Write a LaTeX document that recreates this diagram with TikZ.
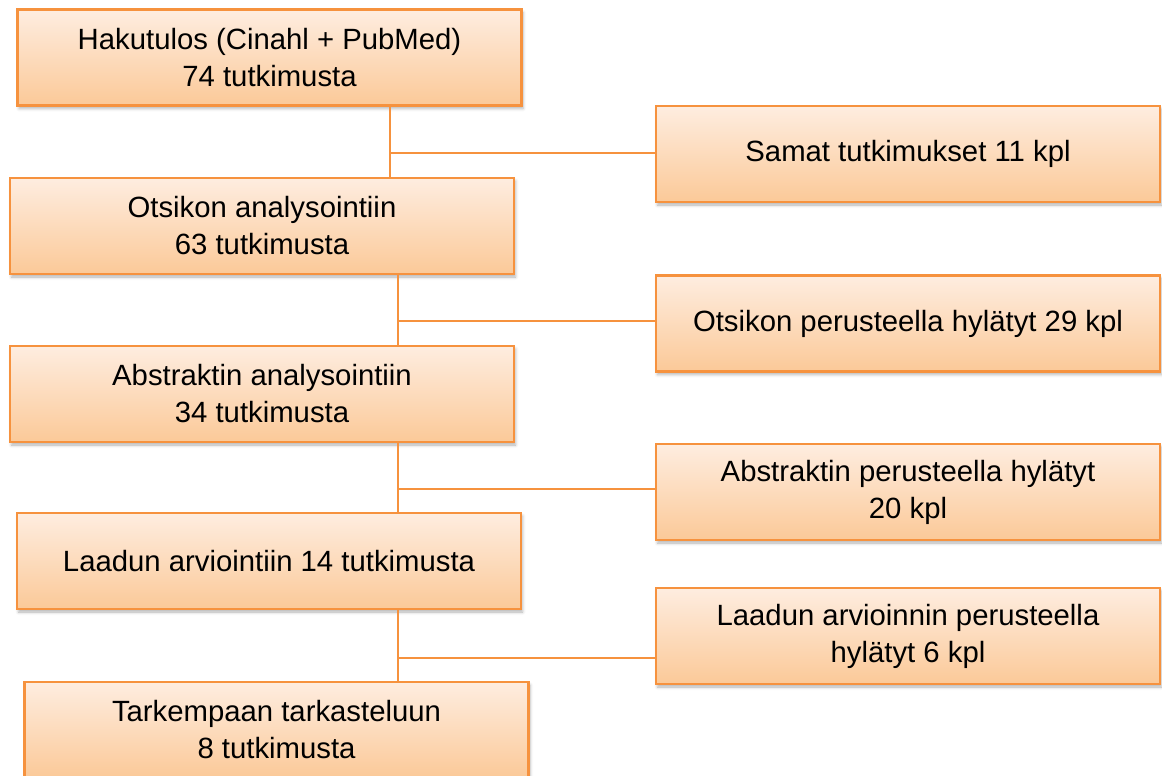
\documentclass[tikz,border=0pt]{standalone}
\usepackage{fontspec}
\setmainfont{Liberation Sans}
\usetikzlibrary{shadows.blur}
\definecolor{boxline}{RGB}{246,146,62}
\definecolor{boxtop}{RGB}{254,237,224}
\definecolor{boxbottom}{RGB}{251,201,152}

\begin{document}
\begin{tikzpicture}[x=1pt,y=1pt,
  stage/.style={draw=boxline, line width=2.2pt, top color=boxtop, bottom color=boxbottom,
    minimum width=504pt, minimum height=96pt, inner sep=0pt, align=center,
    font=\fontsize{29.3}{37}\selectfont,
    blur shadow={shadow xshift=1.5pt, shadow yshift=-3pt, shadow blur radius=3pt, shadow opacity=30}},
  link/.style={draw=boxline, line width=1.6pt}]
\useasboundingbox (0,0) rectangle (1162,-776);
\node[stage] (hakutulos) at (269.5,-57.5) {Hakutulos (Cinahl + PubMed)\\74 tutkimusta};
\node[stage] (otsikko) at (262,-226) {Otsikon analysointiin\\63 tutkimusta};
\node[stage] (abstrakti) at (262,-394) {Abstraktin analysointiin\\34 tutkimusta};
\node[stage] (laatu) at (269,-561) {Laadun arviointiin 14 tutkimusta};
\node[stage] (tarkempi) at (276.5,-730) {Tarkempaan tarkasteluun\\8 tutkimusta};
\node[stage] (samat) at (908,-154) {Samat tutkimukset 11 kpl};
\node[stage] (hylotsikko) at (908,-323.5) {Otsikon perusteella hylätyt 29 kpl};
\node[stage] (hylabstrakti) at (908,-492) {Abstraktin perusteella hylätyt\\20 kpl};
\node[stage] (hyllaatu) at (908,-636) {Laadun arvioinnin perusteella\\hylätyt 6 kpl};

\coordinate (j1) at (390,-153);
\coordinate (j2) at (398,-321);
\coordinate (j3) at (398,-489);
\coordinate (j4) at (398,-658);
\draw[link] (j1 |- hakutulos.south) -- (j1 |- otsikko.north) (j1) -- (j1 -| samat.west);
\draw[link] (j2 |- otsikko.south) -- (j2 |- abstrakti.north) (j2) -- (j2 -| hylotsikko.west);
\draw[link] (j3 |- abstrakti.south) -- (j3 |- laatu.north) (j3) -- (j3 -| hylabstrakti.west);
\draw[link] (j4 |- laatu.south) -- (j4 |- tarkempi.north) (j4) -- (j4 -| hyllaatu.west);
\end{tikzpicture}
\end{document}
